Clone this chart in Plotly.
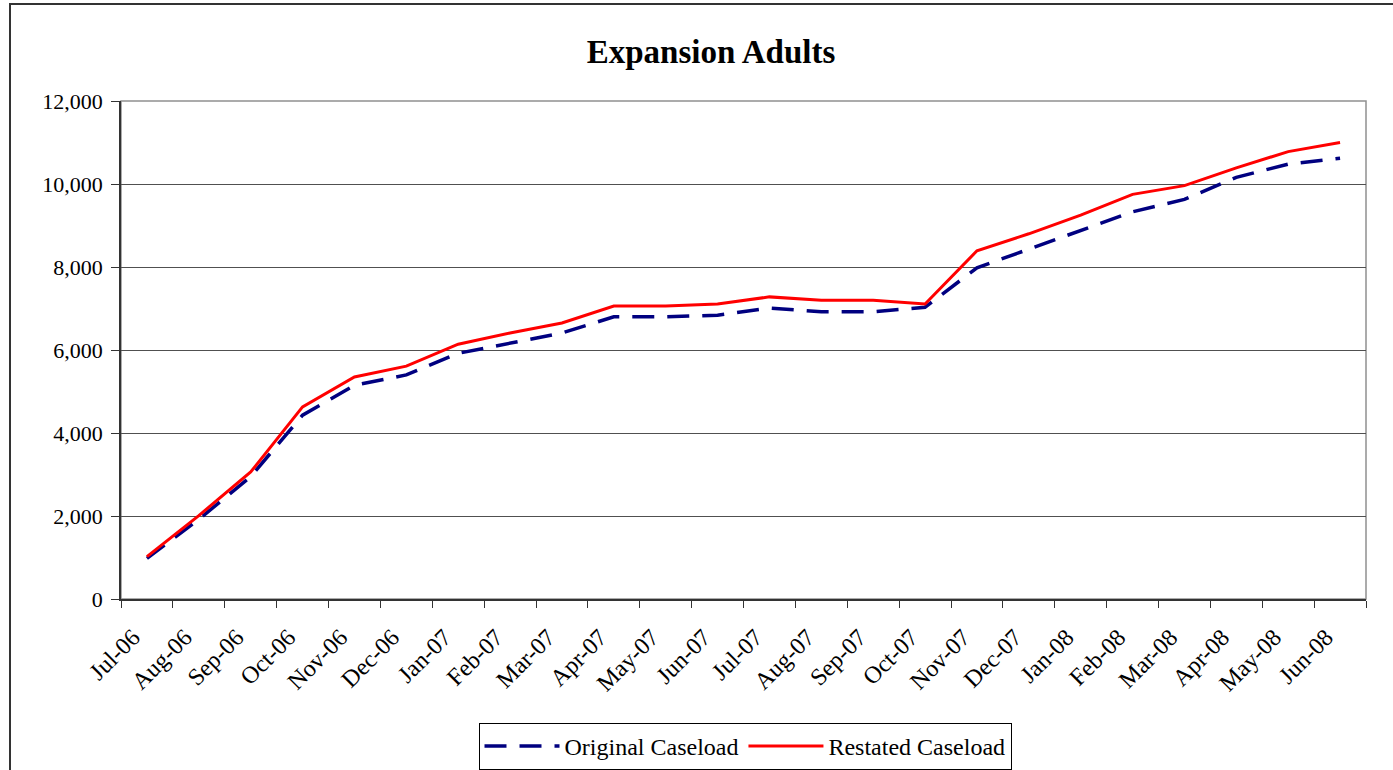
import plotly.graph_objects as go

months = ["Jul-06", "Aug-06", "Sep-06", "Oct-06", "Nov-06", "Dec-06", "Jan-07", "Feb-07",
          "Mar-07", "Apr-07", "May-07", "Jun-07", "Jul-07", "Aug-07", "Sep-07", "Oct-07",
          "Nov-07", "Dec-07", "Jan-08", "Feb-08", "Mar-08", "Apr-08", "May-08", "Jun-08"]
original = [980, 1920, 2950, 4430, 5150, 5400, 5920, 6170, 6410, 6800, 6800, 6840,
            7010, 6920, 6920, 7030, 7980, 8430, 8890, 9330, 9630, 10160, 10480, 10620]
restated = [1020, 2010, 3060, 4630, 5350, 5610, 6140, 6410, 6650, 7060, 7060, 7110,
            7280, 7200, 7200, 7110, 8390, 8800, 9250, 9750, 9960, 10390, 10780, 11000]
y_ticks = [0, 2000, 4000, 6000, 8000, 10000, 12000]

x_pos = [i + 0.5 for i in range(len(months))]
FONT = "Liberation Serif, Times New Roman, serif"

W, H = 1393, 770
L, T, R, B = 121, 101, W - 1366, H - 599
PW, PH = W - L - R, H - T - B

fig = go.Figure()
fig.add_trace(go.Scatter(x=x_pos, y=original, mode="lines", name="Original Caseload",
                         line=dict(color="#000080", width=3.5, dash="22px,13px")))
fig.add_trace(go.Scatter(x=x_pos, y=restated, mode="lines", name="Restated Caseload",
                         line=dict(color="#FF0000", width=3)))

fig.update_layout(
    width=W, height=H,
    margin=dict(l=L, r=R, t=T, b=B, autoexpand=False),
    paper_bgcolor="white", plot_bgcolor="white",
    font=dict(family=FONT, color="black", size=20),
    title=dict(text="<b>Expansion Adults</b>", x=711 / W, xref="container",
               xanchor="center", y=1 - 51 / H, yref="container", yanchor="middle",
               font=dict(family=FONT, size=33, color="black")),
    legend=dict(orientation="h", x=(745 - L) / PW, xanchor="center",
                y=-(723 - 599) / PH, yanchor="top",
                bordercolor="black", borderwidth=1, bgcolor="white",
                font=dict(family=FONT, size=24, color="black"),
                itemwidth=75),
    showlegend=True,
)

fig.update_xaxes(range=[0, len(months)], tickmode="array",
                 tickvals=list(range(len(months) + 1)), ticktext=months + [""],
                 tickangle=-45, ticks="outside", ticklen=7, tickcolor="#333",
                 ticklabelshift=12, ticklabelstandoff=6,
                 showline=True, linecolor="#333", linewidth=1.5, mirror=False,
                 showgrid=False, zeroline=False,
                 tickfont=dict(family=FONT, size=24, color="black"))
fig.update_yaxes(range=[0, 12000], tickmode="array", tickvals=y_ticks,
                 tickformat=",", ticks="outside", ticklen=8, tickcolor="#333",
                 ticklabelstandoff=4,
                 showline=True, linecolor="#333", linewidth=1.5,
                 showgrid=True, gridcolor="#505050", gridwidth=1, zeroline=False,
                 tickfont=dict(family=FONT, size=22, color="black"))

# plot area border (top/right gray)
fig.add_shape(type="rect", xref="paper", yref="paper", x0=0, y0=0, x1=1, y1=1,
              line=dict(color="#909090", width=1.5), layer="below")
# chart area outer frame
fig.add_shape(type="rect", xref="paper", yref="paper",
              x0=(10 - L) / PW, x1=1.2, y0=-0.5, y1=(599 - 4) / PH,
              line=dict(color="#333", width=2))

fig.write_html("out.html", config={"displayModeBar": False},
               post_script="document.body.style.margin='0';")
